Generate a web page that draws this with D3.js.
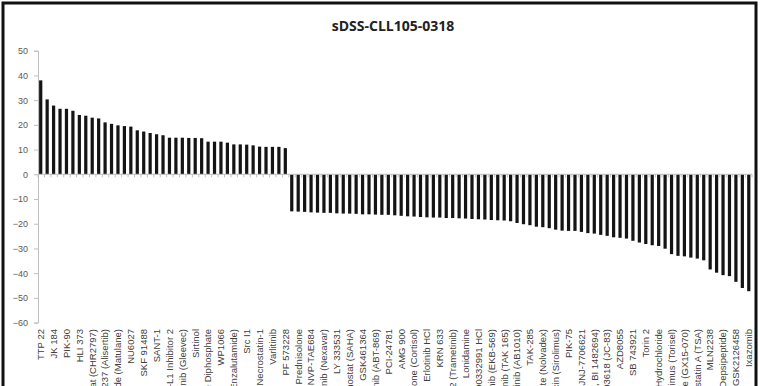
<!DOCTYPE html>
<html>
<head>
<meta charset="utf-8">
<script src="https://cdn.jsdelivr.net/npm/d3@7/dist/d3.min.js"></script>
<style>
  html, body { margin: 0; padding: 0; background: #fff; overflow: hidden; }
  svg { display: block; }
</style>
</head>
<body>
<svg id="chart" width="760" height="386"></svg>
<script>
// ---- Data ----
const title = "sDSS-CLL105-0318";

// Visible tick labels: Excel shows every other category label
const shownLabels = [
  "TTP 22", "JK 184", "PIK-90", "HLI 373", "Tosedostat (CHR2797)", "MLN8237 (Alisertib)",
  "Procarbazine Hydrochloride (Matulane)", "NU6027", "SKF 91488", "SANT-1", "PD-1/PD-L1 Inhibitor 2",
  "Imatinib (Gleevec)", "Sirtinol", "Chloroquine Diphosphate", "WP1066", "MDV3100 (Enzalutamide)",
  "Src I1", "Necrostatin-1", "Varlitinib", "PF 573228", "Prednisolone", "NVP-TAE684",
  "Sorafenib (Nexavar)", "LY 333531", "Vorinostat (SAHA)", "GSK461364", "Linifanib (ABT-869)",
  "PCI-24781", "AMG 900", "Hydrocortisone (Cortisol)", "Erlotinib HCl", "KRN 633",
  "GSK1120212 (Trametinib)", "Lonidamine", "PD0332991 HCl", "Pelitinib (EKB-569)",
  "Mubritinib (TAK 165)", "Masitinib (AB1010)", "TAK-285", "Tamoxifen Citrate (Nolvadex)",
  "Rapamycin (Sirolimus)", "PIK-75", "JNJ-7706621", "Olmutinib (HM61713, BI 1482694)",
  "PD003618 (JC-83)", "AZD8055", "SB 743921", "Torin 2", "Doxorubicin Hydrochloride",
  "Temsirolimus (Torisel)", "Obatoclax Mesylate (GX15-070)", "Trichostatin A (TSA)",
  "MLN2238", "Romidepsin (Depsipeptide)", "GSK2126458", "Ixazomib"
];

const values = [
  38.0, 30.3, 27.8, 26.5, 26.5, 25.7, 24.0, 23.7, 22.9, 22.6,
  21.0, 20.4, 19.8, 19.5, 19.3, 17.8, 17.3, 16.7, 16.2, 15.8,
  14.8, 14.8, 14.8, 14.7, 14.7, 14.6, 13.2, 13.2, 13.2, 12.8,
  12.1, 12.1, 12.0, 11.7, 11.2, 11.1, 11.1, 11.1, 10.6,
  -15.0, -15.1, -15.2, -15.4, -15.5, -15.6, -15.6, -15.8, -15.9, -15.9,
  -16.0, -16.2, -16.2, -16.3, -16.4, -16.4, -16.6, -16.8,
  -17.0, -17.1, -17.3, -17.4, -17.5, -17.5, -17.7, -17.7, -17.8, -17.9,
  -18.1, -18.2, -18.3, -18.5, -18.6, -18.7, -19.0, -19.7,
  -20.2, -20.6, -21.2, -21.4, -21.8, -22.4, -22.8, -22.9, -22.9, -23.3,
  -23.8, -24.0, -24.5, -24.9, -25.5, -25.7, -26.0, -26.9,
  -27.6, -28.2, -28.7, -29.0, -30.1, -32.3, -33.0, -33.2, -33.7, -34.1,
  -34.8, -38.5, -39.8, -40.8, -41.2, -43.5, -46.0, -47.3
];

const yTicks = [50, 40, 30, 20, 10, 0, -10, -20, -30, -40, -50, -60];

// categories: index-based; every even index carries a visible label
const categories = values.map((v, i) => i);
const labelFor = i => (i % 2 === 0 ? shownLabels[i / 2] : "");

// ---- Drawing ----
const svg = d3.select("#chart");
const font = "'Liberation Sans Narrow', 'Liberation Sans', Arial, sans-serif";

// outer frame
svg.append("rect")
  .attr("x", 3).attr("y", 3)
  .attr("width", 753).attr("height", 420)
  .attr("fill", "#fff")
  .attr("stroke", "#111").attr("stroke-width", 3);

svg.append("text")
  .attr("x", 393).attr("y", 31)
  .attr("text-anchor", "middle")
  .attr("font-family", "'Open Sans', 'Liberation Sans', sans-serif")
  .attr("font-weight", "bold")
  .attr("font-size", 14)
  .attr("fill", "#222")
  .text(title);

const x = d3.scaleBand().domain(categories).range([37.5, 752]).paddingInner(0.5).paddingOuter(0.25);
const y = d3.scaleLinear().domain([-60, 50]).range([322.6, 50.7]);

// y axis
const yAxis = svg.append("g")
  .attr("transform", "translate(38,0)")
  .call(d3.axisLeft(y).tickValues(yTicks).tickSize(4).tickPadding(6).tickFormat(d3.format("d")));
yAxis.select(".domain").attr("stroke", "#bfbfbf");
yAxis.selectAll(".tick line").attr("stroke", "#bfbfbf");
yAxis.selectAll(".tick text")
  .attr("fill", "#595959")
  .attr("font-family", "'Liberation Sans', Arial, sans-serif")
  .attr("font-size", 9);

// bars
svg.append("g").selectAll("rect")
  .data(values)
  .join("rect")
  .attr("x", (d, i) => x(i))
  .attr("width", x.bandwidth())
  .attr("y", d => y(Math.max(0, d)))
  .attr("height", d => Math.abs(y(d) - y(0)))
  .attr("fill", "#141414");

// category axis at zero
const step = x.step();
const xAxis = svg.append("g").attr("transform", `translate(0,${y(0)})`);
xAxis.append("line")
  .attr("x1", 38).attr("x2", 752)
  .attr("y1", 0).attr("y2", 0)
  .attr("stroke", "#bfbfbf");
xAxis.selectAll("line.tk")
  .data(d3.range(categories.length + 1))
  .join("line")
  .attr("class", "tk")
  .attr("x1", i => 38 + i * ((752 - 38) / categories.length))
  .attr("x2", i => 38 + i * ((752 - 38) / categories.length))
  .attr("y1", 0).attr("y2", 3)
  .attr("stroke", "#bfbfbf");

// category labels (rotated) below the plot
svg.append("g").selectAll("text")
  .data(categories.filter(i => labelFor(i) !== ""))
  .join("text")
  .attr("transform", i => `translate(${x(i) + x.bandwidth() / 2},329) rotate(-90)`)
  .attr("text-anchor", "end")
  .attr("dy", "0.35em")
  .attr("font-family", font)
  .attr("font-size", 9.5)
  .attr("fill", "#404040")
  .text(i => labelFor(i));
</script>
</body>
</html>
